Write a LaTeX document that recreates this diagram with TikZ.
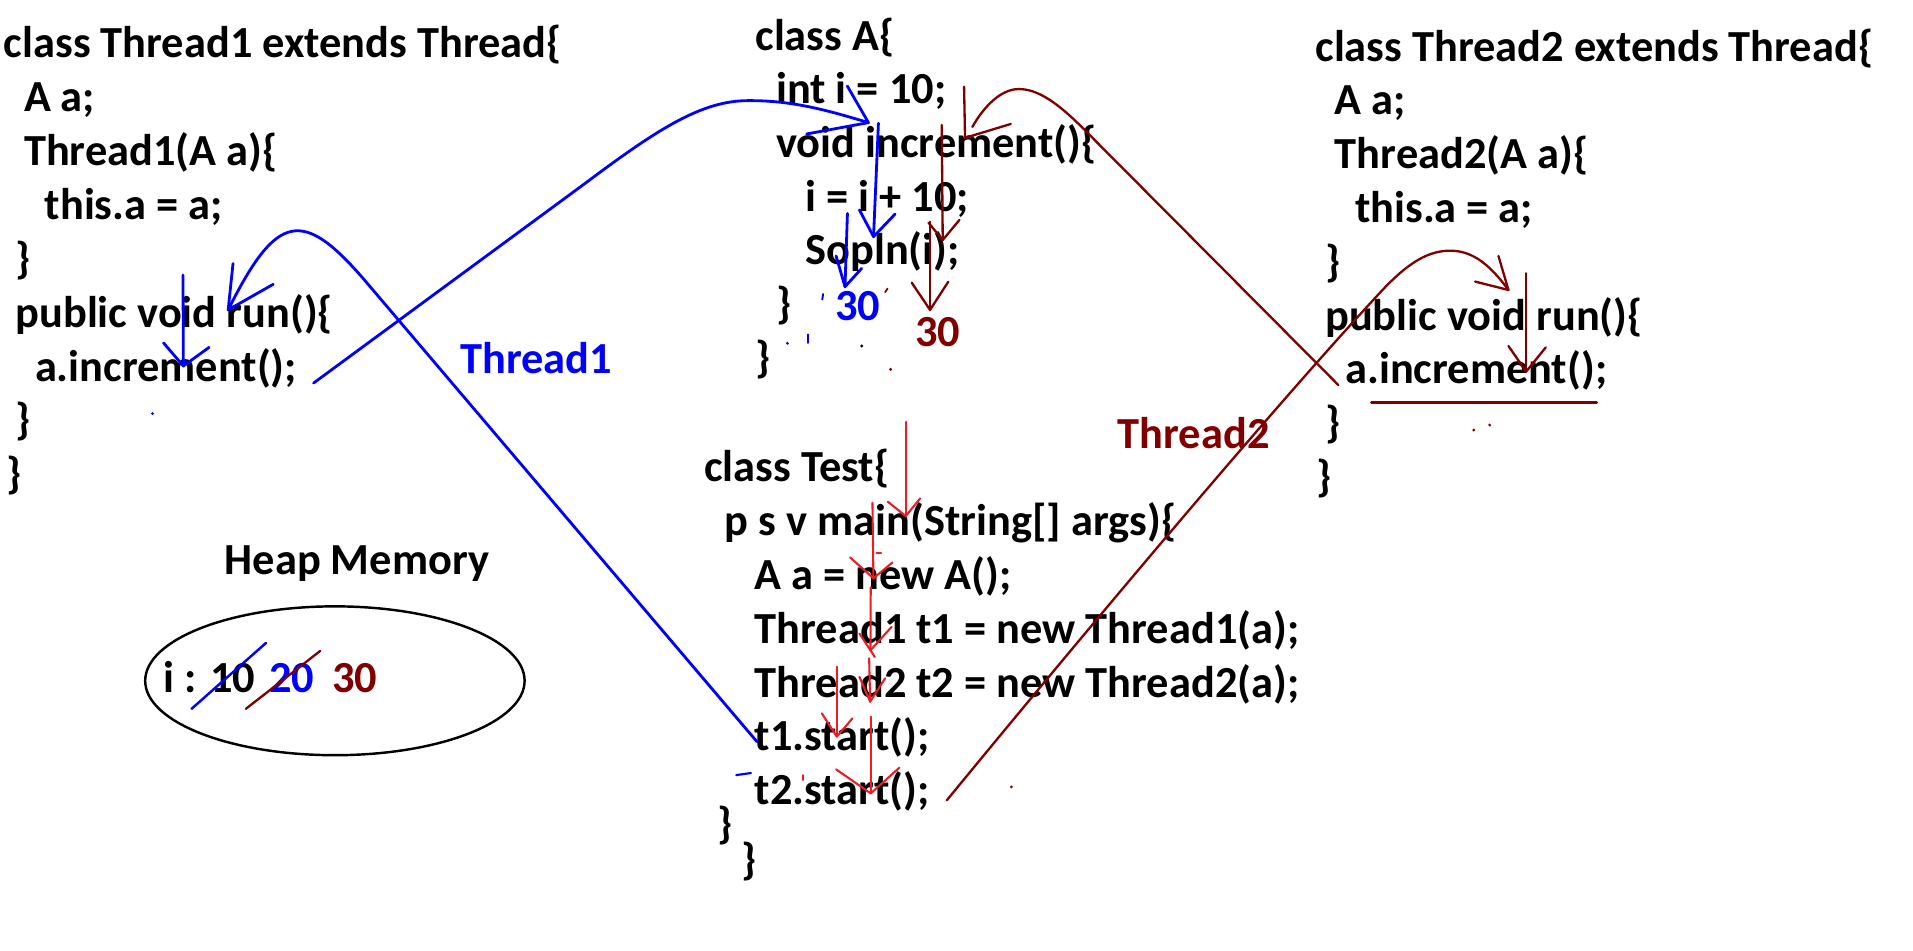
\documentclass[tikz,border=0pt]{standalone}
\usepackage{fontspec}
\setmainfont{Carlito}
\usetikzlibrary{shapes.geometric}
\newcommand{\listingfont}{\fontsize{36.4}{43}\selectfont\bfseries}
\definecolor{penblue}{RGB}{0,0,255}
\definecolor{penmaroon}{RGB}{128,0,0}
\definecolor{penred}{RGB}{237,28,36}
\begin{document}
\begin{tikzpicture}[x=1pt,y=-1pt,
  code/.style={anchor=base west, inner sep=0pt, font=\listingfont},
  blueink/.style={draw=penblue, line width=2.3pt, line cap=round, line join=round},
  maroonink/.style={draw=penmaroon, line width=1.9pt, line cap=round, line join=round},
  redink/.style={draw=penred, line width=1.7pt, line cap=round, line join=round},
  speck/.style={inner sep=0pt, minimum size=2.6pt, circle}]
\useasboundingbox[fill=white] (0,0) rectangle (1568,779);

% ---- class Thread1 ----
\node[code] (t1a) at (3,47.5)   {class Thread1 extends Thread\{};
\node[code] (t1b) at (19.5,91.6) {A a;};
\node[code] (t1c) at (19.5,135.8) {Thread1(A a)\{};
\node[code] (t1d) at (36.5,180) {this.a = a;};
\node[code] (t1e) at (12.5,224) {\}};
\node[code] (t1f) at (12.5,268.5) {public void run()\{};
\node[code] (t1g) at (28.5,312.5) {a.increment();};
\node[code] (t1h) at (12.5,356.5) {\}};
\node[code] (t1i) at (5,400.5) {\}};

% ---- class A ----
\node[code] (a1) at (619,41)  {class A\{};
\node[code] (a2) at (636,85)  {int i = 10;};
\node[code] (a3) at (636,129) {void increment()\{};
\node[code] (a4) at (660,173) {i = i + 10;};
\node[code] (a5) at (660,217) {Sopln(i);};
\node[code] (a6) at (636,261) {\}};
\node[code] (a7) at (619,305) {\}};
\node[code, text=penblue]   (out1) at (684.5,262.3) {30};
\node[code, text=penmaroon] (out2) at (750,284.2) {30};

% ---- class Thread2 ----
\node[code] (t2a) at (1078,50)    {class Thread2 extends Thread\{};
\node[code] (t2b) at (1094,94.1)  {A a;};
\node[code] (t2c) at (1094,138.2) {Thread2(A a)\{};
\node[code] (t2d) at (1110.5,182.3) {this.a = a;};
\node[code] (t2e) at (1086.5,226.4) {\}};
\node[code] (t2f) at (1086,270.5) {public void run()\{};
\node[code] (t2g) at (1102.5,314.6) {a.increment();};
\node[code] (t2h) at (1086.5,358.7) {\}};
\node[code] (t2i) at (1078.5,402.8) {\}};

% ---- class Test ----
\node[code] (c1) at (577,394.5)   {class Test\{};
\node[code] (c2) at (594,438.7)   {p s v main(String[] args)\{};
\node[code] (c3) at (618.5,482.9) {A a = new A();};
\node[code] (c4) at (618.5,527.1) {Thread1 t1 = new Thread1(a);};
\node[code] (c5) at (618.5,571.3) {Thread2 t2 = new Thread2(a);};
\node[code] (c6) at (618.5,615.5) {t1.start();};
\node[code] (c7) at (618.5,659.7) {t2.start();};
\node[code] (c8) at (588,687)     {\}};
\node[code] (c9) at (607.5,717)   {\}};

% ---- thread labels ----
\node[code, text=penblue]   (lab1) at (377,306)   {Thread1};
\node[code, text=penmaroon] (lab2) at (916,367.5) {Thread2};

% ---- heap memory ----
\node[code] (heaplab) at (184,471) {Heap Memory};
\node[draw, line width=2pt, ellipse, minimum width=311pt, minimum height=122pt, inner sep=0pt]
  (heap) at (274.5,558) {};
\node[code] (ival) at (134,568) {i : 10};
\node[code, text=penblue]   (v20) at (220.5,568) {20};
\node[code, text=penmaroon] (v30) at (272,568)   {30};
\draw[blueink, line width=2pt]  (157,581) -- (218,527);
\draw[maroonink] (201.5,581) -- (262.5,533.5);

% ---- Thread1 path (blue) ----
\coordinate (bStartT1) at (620.5,608);
\coordinate (bRunTip)  at (187,254);
\draw[blueink] (bStartT1) -- (300,231) .. controls (248,170) and (227,174) .. (bRunTip);
\draw[blueink] (191,216) -- (bRunTip) -- (224,233);
\coordinate (bCallTop) at (150,225.4);
\coordinate (bCallTip) at (150.3,300);
\draw[blueink] (bCallTop) -- (bCallTip);
\draw[blueink] (134,281) -- (bCallTip) -- (171.4,284.7);
\coordinate (bIncStart) at (257,314);
\coordinate (bIncTip)   at (711.8,100.5);
\draw[blueink] (bIncStart) -- (480,150) .. controls (540,105) and (575,83) .. (612,82.5)
  .. controls (650,82) and (680,91) .. (bIncTip);
\draw[blueink] (694.5,70.5) -- (bIncTip) -- (661.2,109.8);
\draw[blueink] (720,101) -- (716,194);
\draw[blueink] (704.4,172) -- (716,194) -- (733.6,175.5);
\draw[blueink] (694.6,175) -- (692.6,235);
\draw[blueink] (685.3,209.8) -- (692.6,235) -- (706.3,220);

% ---- Thread2 path (maroon) ----
\coordinate (mStartT2) at (776,656);
\coordinate (mRunTip)  at (1236.4,237.7);
\draw[maroonink] (mStartT2) .. controls (886,522) and (1041,337) .. (1131,240)
  .. controls (1155,214) and (1172,205) .. (1190,205.5)
  .. controls (1208,206) and (1222,218) .. (mRunTip);
\draw[maroonink] (1228.2,209.8) -- (mRunTip) -- (1209.1,230.8);
\draw[maroonink] (1250.9,224) -- (1250.9,304.6);
\draw[maroonink] (1236.4,283.6) -- (1250.9,304.6) -- (1267,284.7);
\draw[maroonink] (1124,330) -- (1308.8,330);
\coordinate (mIncStart) at (1097,315.6);
\coordinate (mIncTip)   at (791,113);
\draw[maroonink] (mIncStart) -- (890,107.5) .. controls (866,83) and (850,73) .. (835,73)
  .. controls (820,73) and (806,88) .. (797,104);
\draw[maroonink] (790.2,71) -- (mIncTip) -- (828.5,101.6);
\draw[maroonink] (771.9,102.5) -- (772.7,196.7);
\draw[maroonink] (761,182.5) -- (772.7,196.7) -- (786.4,180.3);
\draw[maroonink] (762.3,181.7) -- (762.3,254);
\draw[maroonink] (747.3,231.7) -- (762.3,254) -- (777.3,230.9);

% ---- main thread steps (red) ----
\draw[redink] (742.4,345.7) -- (742.4,423);
\draw[redink] (727.7,411.2) -- (742.4,423) -- (754.2,408.5);
\draw[redink] (715.1,412) -- (715.9,474);
\draw[redink] (696.8,456.9) -- (715.9,474) -- (731.5,461);
\draw[redink] (718.6,453.6) -- (722.2,453.6);
\draw[redink] (713.7,481.4) -- (713.5,533);
\draw[redink] (704.4,519.3) -- (713.5,533) -- (730.9,513.7);
\draw[redink] (713.5,533) -- (717,538.5);
\draw[redink] (712.4,539.6) -- (713.2,575.1);
\draw[redink] (704.4,554.7) -- (713.2,575.1) -- (725.5,556);
\draw[redink] (685.9,546.5) -- (685.9,603.8);
\draw[redink] (673.6,584.7) -- (685.9,603.8) -- (698.7,588.8);
\draw[redink] (713.7,587.4) -- (713.7,650.3);
\draw[redink] (685.3,630.6) -- (713.7,650.3) -- (737.2,629.2);

% ---- stray pen specks ----
\node[speck, fill=penblue] (s1) at (125,339) {};
\node[speck, fill=penblue] (s2) at (645.4,281.4) {};
\node[speck, fill=black]   (s3) at (706.3,283.6) {};
\node[speck, fill=penmaroon] (s4) at (730,302.7) {};
\node[speck, fill=penmaroon] (s5) at (829,645) {};
\node[speck, fill=penmaroon] (s6) at (1208,352.5) {};
\node[speck, fill=penmaroon] (s7) at (1221,348.4) {};
\draw[blueink, line width=1.6pt] (662,274) -- (662,281);
\draw[blueink, line width=1.6pt] (674.6,241) -- (674,245.5);
\draw[maroonink, line width=1.4pt] (727.5,236.5) -- (725.5,239.5);
\draw[blueink, line width=1.8pt] (603.5,635.3) -- (615.5,633.6);
\draw[redink, line width=1.4pt] (658.2,635.3) -- (658.2,639.4);
\end{tikzpicture}
\end{document}
